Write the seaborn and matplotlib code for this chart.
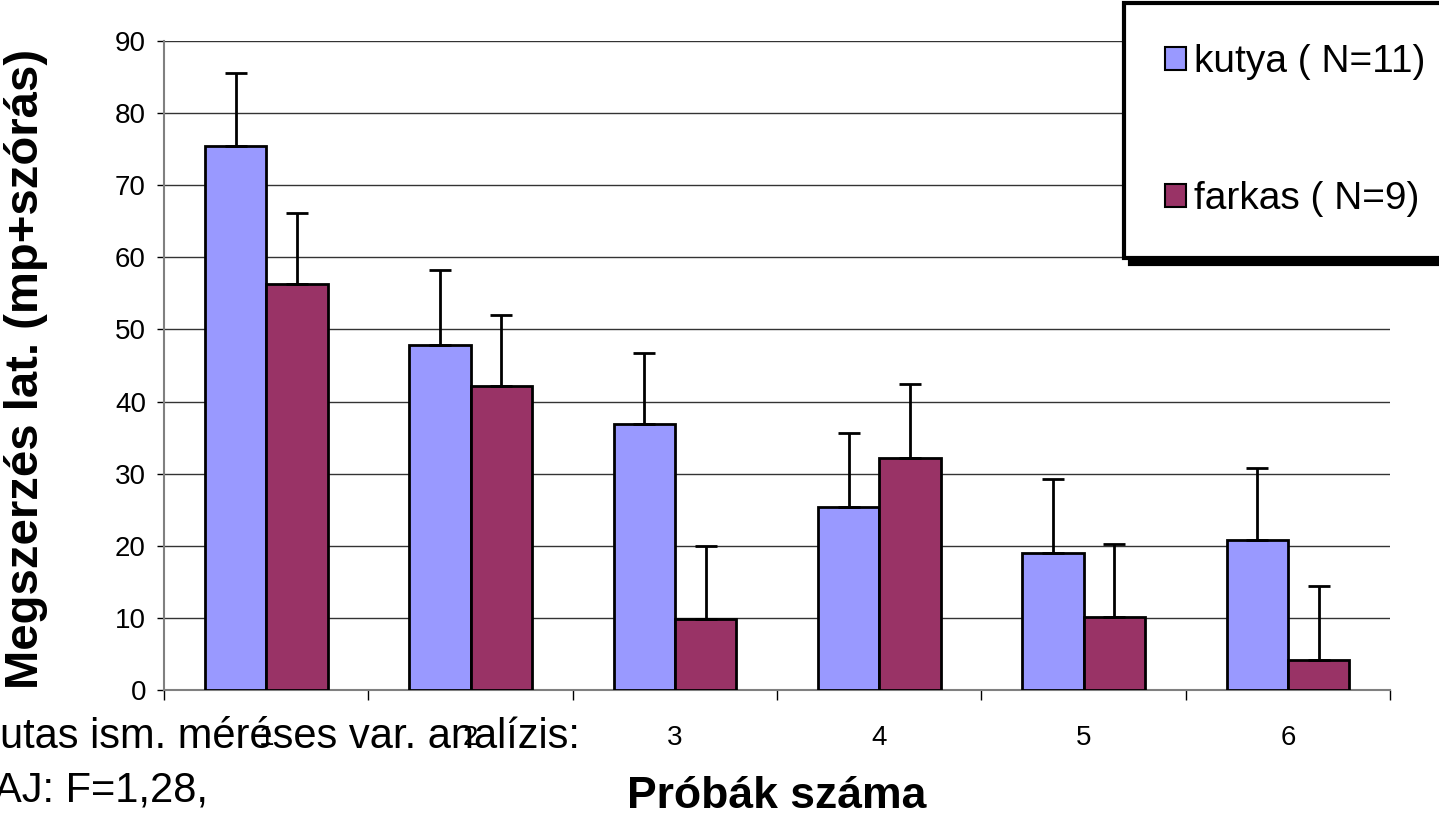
import matplotlib
matplotlib.use("Agg")
import matplotlib.pyplot as plt
import seaborn as sns
import pandas as pd

# data
probak = ["1", "2", "3", "4", "5", "6"]
kutya = [75.4, 47.9, 36.9, 25.4, 19.0, 20.8]
kutya_sd = [10.2, 10.3, 9.8, 10.2, 10.2, 10.0]
farkas = [56.3, 42.1, 9.8, 32.2, 10.1, 4.2]
farkas_sd = [9.9, 9.9, 10.2, 10.2, 10.1, 10.2]
csoportok = ["kutya ( N=11)", "farkas ( N=9)"]
szinek = ["#9999FF", "#993366"]

df = pd.DataFrame({
    "proba": probak * 2,
    "ertek": kutya + farkas,
    "csoport": [csoportok[0]] * 6 + [csoportok[1]] * 6,
})

sns.set_theme(style="white")
plt.rcParams["font.family"] = ["Liberation Sans", "DejaVu Sans"]
plt.rcParams["text.color"] = "black"
plt.rcParams["axes.labelcolor"] = "black"
plt.rcParams["xtick.color"] = "black"
plt.rcParams["ytick.color"] = "black"

fig = plt.figure(figsize=(14.39, 8.19), dpi=100)
ax = fig.add_axes([0.114, 0.1575, 0.852, 0.7925])

sns.barplot(data=df, x="proba", y="ertek", hue="csoport", palette=szinek,
            saturation=1, width=0.6, gap=0, errorbar=None, edgecolor="black",
            linewidth=2, ax=ax, zorder=3)

# upward-only error bars (mean + SD)
for cont, sd in zip(ax.containers, [kutya_sd, farkas_sd]):
    xs = [b.get_x() + b.get_width() / 2 for b in cont]
    ys = [b.get_height() for b in cont]
    ax.errorbar(xs, ys, yerr=[[0] * len(sd), sd], fmt="none", ecolor="black",
                elinewidth=2, capsize=8, capthick=2, zorder=4)

ax.set_ylim(0, 90)
ax.set_xlim(-0.5, 5.5)
ax.set_yticks(range(0, 91, 10))
ax.yaxis.grid(True, color="#333333", linewidth=1)
ax.set_axisbelow(True)
for s in ["top", "right"]:
    ax.spines[s].set_visible(False)
ax.spines["left"].set_color("#808080")
ax.spines["bottom"].set_color("#808080")
ax.spines["left"].set_linewidth(1.5)
ax.spines["bottom"].set_linewidth(1.5)

ax.set_xticks([i - 0.5 for i in range(7)], minor=True)
ax.tick_params(axis="x", which="minor", direction="out", length=7, width=1,
               color="black", bottom=True)
ax.tick_params(axis="x", which="major", length=0, pad=25, labelsize=20)
ax.tick_params(axis="y", direction="out", length=5, width=1, color="black",
               left=True, pad=8, labelsize=20)

ax.set_xlabel("Próbák száma", fontsize=32, fontweight="bold", labelpad=18)
ax.set_ylabel("Megszerzés lat. (mp+szórás)", fontsize=34, fontweight="bold")
ax.yaxis.set_label_coords(-0.095, 0.495)

leg = ax.legend(loc="upper left", bbox_to_anchor=(0.783, 1.058), fontsize=28,
                frameon=True, fancybox=False, edgecolor="black",
                labelspacing=2.6, borderpad=1.05, handlelength=0.55,
                handleheight=0.55, handletextpad=0.2, borderaxespad=0,
                shadow={"color": "black", "alpha": 1, "ox": 4, "oy": -4})
leg.get_frame().set_linewidth(3)
leg.set_zorder(10)
for h in leg.legend_handles:
    h.set_linewidth(1.5)

fig.text(0.0, 0.1, "utas ism. méréses var. analízis:", fontsize=30,
         ha="left", va="center")
fig.text(-0.004, 0.035, "AJ: F=1,28,", fontsize=30, ha="left", va="center")

fig.savefig("out.png", dpi=100)
